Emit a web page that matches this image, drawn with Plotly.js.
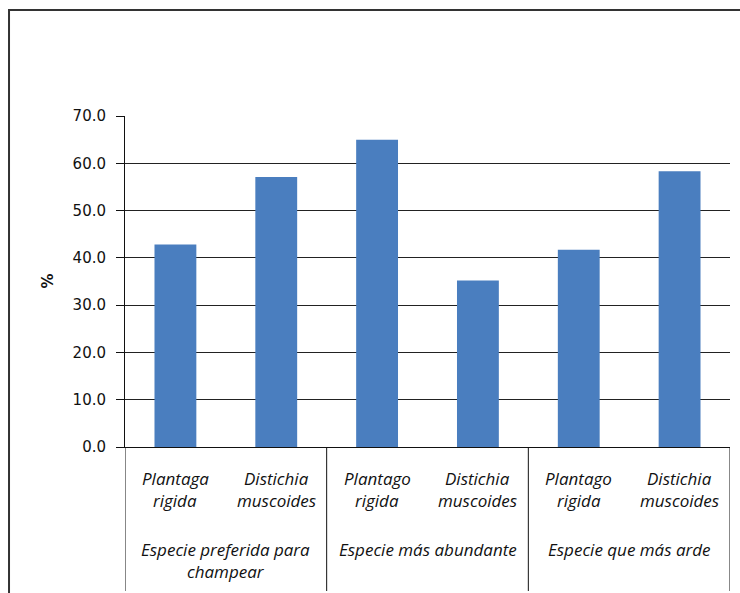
<!DOCTYPE html>
<html>
<head>
<meta charset="utf-8">
<script src="https://cdn.plot.ly/plotly-3.0.1.min.js"></script>
<style>
  html, body { margin: 0; padding: 0; background: #fff; }
  #chart { width: 740px; height: 593px; }
</style>
</head>
<body>
<div id="chart"></div>
<script>
// Species shown under each bar (line break marks where the label wraps)
const species = [
  'Plantaga\nrigida',
  'Distichia\nmuscoides',
  'Plantago\nrigida',
  'Distichia\nmuscoides',
  'Plantago\nrigida',
  'Distichia\nmuscoides'
];
// Question groups, two bars each
const groups = [
  'Especie preferida para\nchampear',
  'Especie más abundante',
  'Especie que más arde'
];
// Percentage of answers for each bar
const values = [42.8, 57.1, 65.0, 35.2, 41.7, 58.3];

const barPositions = species.map((_, i) => i);

const labelFont = { family: 'Open Sans, sans-serif', size: 17, color: '#111', style: 'italic' };

const annotations = [];
// species labels under each bar, one annotation per line
species.forEach((name, i) => {
  name.split('\n').forEach((line, k) => {
    annotations.push({
      x: barPositions[i], xref: 'x', y: 0, yref: 'paper',
      yanchor: 'middle', yshift: -31 - 22 * k,
      text: line, showarrow: false, font: labelFont
    });
  });
});
// group labels centred under each pair of bars
groups.forEach((name, g) => {
  name.split('\n').forEach((line, k) => {
    annotations.push({
      x: 2 * g + 0.5, xref: 'x', y: 0, yref: 'paper',
      yanchor: 'middle', yshift: -102 - 22 * k,
      text: line, showarrow: false, font: labelFont
    });
  });
});
// y-axis title
annotations.push({
  x: 0, xref: 'paper', xanchor: 'center', xshift: -78,
  y: 0.5, yref: 'paper', yanchor: 'middle',
  text: '<b>%</b>', textangle: -90, showarrow: false,
  font: { family: 'DejaVu Sans, sans-serif', size: 15, color: '#111' }
});

// vertical separators between the groups, running down through the label area
const shapes = [];
for (let g = 0; g <= groups.length; g++) {
  shapes.push({
    type: 'line', xref: 'x', yref: 'paper',
    x0: 2 * g - 0.5, x1: 2 * g - 0.5, y0: 0, y1: -0.435,
    line: { color: '#111', width: 1 }
  });
}
// outer frame of the figure
shapes.push({
  type: 'rect', xref: 'paper', yref: 'paper',
  x0: -0.1917, x1: 1.05, y0: -0.5, y1: 1.3205,
  line: { color: '#333', width: 2 }, fillcolor: 'rgba(0,0,0,0)'
});

const trace = {
  type: 'bar',
  x: barPositions,
  y: values,
  marker: { color: '#4a7ebf', line: { width: 0 } },
  hoverinfo: 'skip'
};

const layout = {
  width: 740, height: 593,
  margin: { l: 125, r: 10, t: 116, b: 146 },
  paper_bgcolor: '#fff', plot_bgcolor: '#fff',
  showlegend: false,
  bargap: 0.585,
  xaxis: {
    range: [-0.5, 5.5], showticklabels: false, ticks: '',
    showgrid: false, zeroline: false,
    showline: true, linecolor: '#111', linewidth: 1
  },
  yaxis: {
    range: [0, 70], dtick: 10, tickformat: '.1f',
    ticks: 'outside', ticklen: 8, tickcolor: '#111',
    ticklabelstandoff: 7,
    showline: true, linecolor: '#111', linewidth: 1,
    showgrid: true, gridcolor: '#222', gridwidth: 1,
    zeroline: false,
    tickfont: { family: 'DejaVu Sans, sans-serif', size: 15, color: '#111' }
  },
  annotations: annotations,
  shapes: shapes
};

Plotly.newPlot('chart', [trace], layout, { staticPlot: true, displayModeBar: false });
</script>
</body>
</html>
